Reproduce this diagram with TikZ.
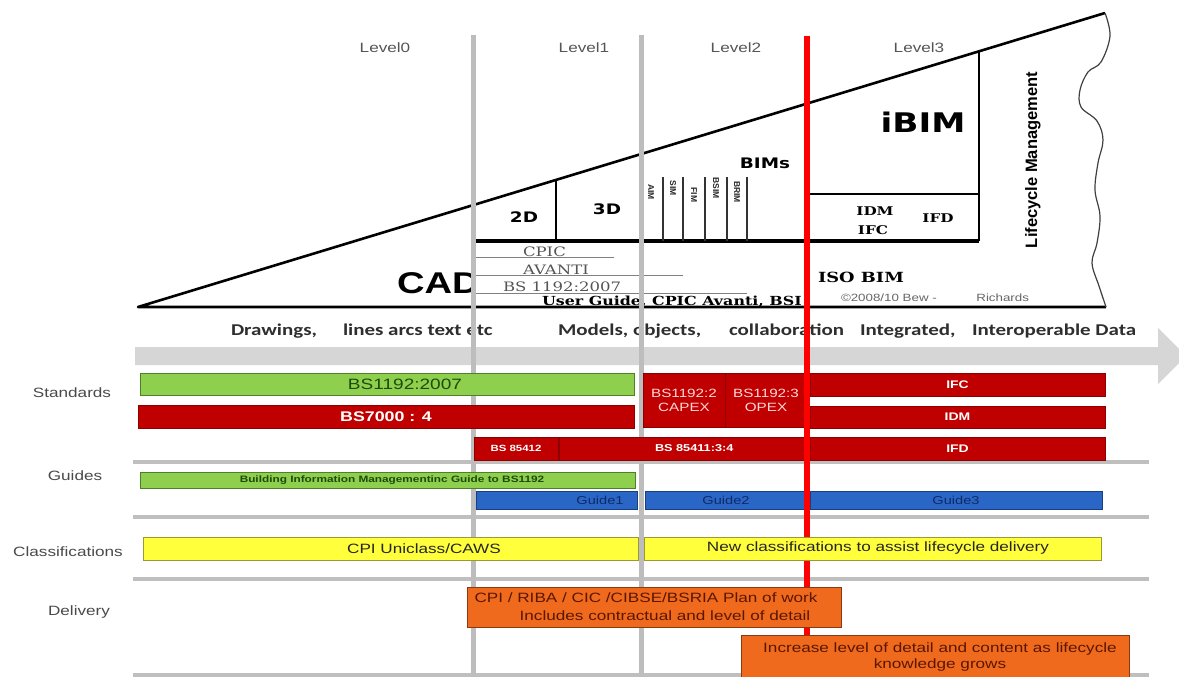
\documentclass[tikz,border=0pt]{standalone}
\usepackage{fontspec}
\setmainfont{Liberation Sans}[FakeStretch=1.27]
\newfontfamily\calfont{Carlito}[FakeStretch=1.27]
\newfontfamily\vsans{DejaVu Sans}[FakeStretch=1.27]
\newfontfamily\vserif{DejaVu Serif}[FakeStretch=1.27]
\newfontfamily\upsans{Liberation Sans}
\newcommand\setfs[1]{\fontsize{#1}{#1}\selectfont}

\definecolor{lvlgray}{HTML}{555555}
\definecolor{lblgray}{HTML}{4A4A4A}
\definecolor{vgray}{HTML}{BDBDBD}
\definecolor{sepgray}{HTML}{BFBFBF}
\definecolor{arrowgray}{HTML}{D6D6D6}
\definecolor{arrtext}{HTML}{2E2E2E}
\definecolor{serifgray}{HTML}{555555}
\definecolor{stdred}{HTML}{C00000}
\definecolor{stdredline}{HTML}{8C0000}
\definecolor{gdblue}{HTML}{2A66C6}
\definecolor{gdblueline}{HTML}{1A3F80}
\definecolor{bargreen}{HTML}{8ED04E}
\definecolor{bargreenline}{HTML}{4F7F2A}
\definecolor{baryellow}{HTML}{FFFF3C}
\definecolor{baryellowline}{HTML}{9A9A30}
\definecolor{barorange}{HTML}{F06A1E}
\definecolor{barorangeline}{HTML}{8A3A12}
\definecolor{navytext}{HTML}{0E2A66}
\definecolor{browntext}{HTML}{5A1600}
\definecolor{greentext}{HTML}{1E4A0C}
\definecolor{capexpink}{HTML}{FFD8D8}

\tikzset{
  txt/.style={inner sep=0pt, outer sep=0pt},
  lvl/.style={txt, anchor=base, text=lvlgray, font=\setfs{13.5}},
  rowlab/.style={txt, anchor=base, text=lblgray, font=\setfs{13.5}},
  wedgelab/.style={txt, anchor=base, font=\vsans\bfseries\setfs{14.5}},
  seriflab/.style={txt, anchor=base west, text=serifgray, font=\vserif\setfs{13}},
  serifbold/.style={txt, anchor=base, font=\vserif\bfseries\setfs{12}},
  bimcol/.style={txt, rotate=-90, font=\upsans\bfseries\setfs{8.5}, text=black!85},
  arrtxt/.style={txt, anchor=base west, text=arrtext, font=\calfont\bfseries\setfs{16.5}},
  bar/.style={anchor=north west, inner sep=0pt, outer sep=0pt, line width=1pt},
  redbar/.style={bar, fill=stdred, draw=stdredline},
  greenbar/.style={bar, fill=bargreen, draw=bargreenline},
  bluebar/.style={bar, fill=gdblue, draw=gdblueline},
  yellowbar/.style={bar, fill=baryellow, draw=baryellowline},
  orangebar/.style={bar, fill=barorange, draw=barorangeline},
  bartext/.style={txt, anchor=center},
  levelline/.style={vgray, line width=5pt},
  sepline/.style={sepgray, line width=4pt},
}

\begin{document}
\begin{tikzpicture}[x=1pt, y=-1pt]
\path[use as bounding box] (0,0) rectangle (1179,677);
\clip (0,0) rectangle (1179,677);
\fill[white] (0,0) rectangle (1179,677);

% ---------- maturity wedge ----------
\coordinate (w0) at (138,307);
\coordinate (w1) at (1105,13);
\coordinate (wb) at (1106,307);
\draw[line width=2.6pt, line join=round] (w1) -- (w0) -- (wb);
\draw[line width=1.2pt, black!75] plot[smooth, tension=0.6] coordinates
  {(1105,13) (1110,36) (1101,62) (1088,72) (1080,90) (1081,107) (1097,121)
   (1103,140) (1098,163) (1095,190) (1100,216) (1097,243) (1092,263) (1099,286) (1106,307)};

\coordinate (h0) at (475,241);
\coordinate (h1) at (979,241);
\draw[line width=3.5pt] (h0) -- (h1);
\coordinate (ib0) at (979,51.3);
\draw[line width=2.4pt] (ib0) -- (h1);
\coordinate (ih0) at (807,194);
\coordinate (ih1) at (979,194);
\draw[line width=2.4pt] (ih0) -- (ih1);
\coordinate (d0) at (556,179.9);
\coordinate (d1) at (556,241);
\draw[line width=2.4pt] (d0) -- (d1);
\foreach \x in {663,683,705,727,747}
  \draw[line width=1.3pt, black!80] (\x,177) -- (\x,241);

% underlines of the level-1 references
\draw[gray, line width=1pt] (475,257) -- (614,257);
\draw[gray, line width=1pt] (475,275) -- (683,275);
\draw[gray, line width=1pt] (475,293) -- (747,293);

\node[wedgelab] (t2d) at (524,222) {2D};
\node[wedgelab] (t3d) at (607,214) {3D};
\node[wedgelab] (bims) at (765,168) {BIMs};
\node[wedgelab, font=\vsans\bfseries\setfs{27}] (ibim) at (923,132) {iBIM};
\node[bimcol] (aim) at (651,192) {AIM};
\node[bimcol] (sim) at (673,188) {SIM};
\node[bimcol] (fim) at (694,195) {FIM};
\node[bimcol] (bsim) at (716,188) {BSIM};
\node[bimcol] (brim) at (737,192) {BRIM};
\node[serifbold] (idm) at (875,215) {IDM};
\node[serifbold] (ifc) at (873,234) {IFC};
\node[serifbold] (ifd) at (938,222) {IFD};
\node[serifbold, font=\vserif\bfseries\setfs{14}] (isobim) at (861,282) {ISO BIM};
\node[txt, anchor=base west, text=black!60, font=\setfs{10.5}] (copy) at (841,301) {\textcopyright2008/10 Bew -};
\node[txt, anchor=base east, text=black!60, font=\setfs{10.5}] (rich) at (1029,301) {Richards};
\node[txt, rotate=90, font=\upsans\bfseries\setfs{16.5}] (lcm) at (1033,160) {Lifecycle Management};

\node[seriflab] (cpic) at (523,256) {CPIC};
\node[seriflab] (avanti) at (523,274) {AVANTI};
\node[seriflab] (bs1192) at (503,291) {BS 1192:2007};
\node[txt, anchor=base west, font=\vserif\bfseries\setfs{12.5}] (uguide) at (542,305) {User Guide, CPIC Avanti, BSI};

\begin{scope}
  \clip (300,240) rectangle (471,300);
  \node[txt, anchor=base west, font=\bfseries\setfs{30}] (cad) at (397,293) {CAD};
\end{scope}

% ---------- progress arrow ----------
\fill[arrowgray] (135,347) -- (1158,347) -- (1158,328) -- (1186,356)
  -- (1158,384) -- (1158,365) -- (135,365) -- cycle;
\node[arrtxt] (drw) at (231,335) {Drawings,};
\node[arrtxt] (lines) at (343,335) {lines arcs text etc};
\node[arrtxt] (models) at (558,335) {Models, objects,};
\node[arrtxt] (collab) at (729,335) {collaboration};
\node[arrtxt] (integ) at (860,335) {Integrated,};
\node[arrtxt] (interop) at (972,335) {Interoperable Data};

% ---------- row labels ----------
\node[rowlab] (lstd) at (72,397) {Standards};
\node[rowlab] (lgd) at (75,480) {Guides};
\node[rowlab] (lcls) at (68,556) {Classifications};
\node[rowlab] (ldel) at (79,615) {Delivery};

% ---------- level headings ----------
\node[lvl] (lv0) at (385,53) {Level0};
\node[lvl] (lv1) at (584,53) {Level1};
\node[lvl] (lv2) at (736,53) {Level2};
\node[lvl] (lv3) at (919,53) {Level3};

% ---------- row separators ----------
\foreach \y in {462,517,579,675}
  \draw[sepline] (133,\y) -- (1149,\y);

% ---------- level boundaries ----------
\draw[levelline] (473,35) -- (473,677);
\draw[levelline] (641,35) -- (641,677);

% ---------- red and blue bars ----------
\node[redbar, minimum width=496, minimum height=23] (bs7000) at (138,405) {};
\node[bartext, text=white, font=\bfseries\setfs{14}] at (bs7000.center) {BS7000 : 4};
\node[redbar, minimum width=84, minimum height=23] (bs85412) at (474,437) {};
\node[bartext, text=white, font=\bfseries\setfs{9}] at (bs85412.center) {BS 85412};
\node[redbar, minimum width=249, minimum height=23] (bs85411) at (559,437) {};
\node[txt, anchor=west, text=white, font=\bfseries\setfs{10}] at (655,448.5) {BS 85411:3:4};
\node[redbar, minimum width=82, minimum height=54] (capex) at (643,373) {};
\node[bartext, text=capexpink, font=\setfs{12}, align=center] at (capex.center) {BS1192:2\\[2pt]CAPEX};
\node[redbar, minimum width=82, minimum height=54] (opex) at (725,373) {};
\node[bartext, text=capexpink, font=\setfs{12}, align=center] at (opex.center) {BS1192:3\\[2pt]OPEX};
\node[redbar, minimum width=295, minimum height=23] (ifcbar) at (810,373) {};
\node[bartext, text=white, font=\bfseries\setfs{11}] at (ifcbar.center) {IFC};
\node[redbar, minimum width=295, minimum height=22] (idmbar) at (810,406) {};
\node[bartext, text=white, font=\bfseries\setfs{11}] at (idmbar.center) {IDM};
\node[redbar, minimum width=295, minimum height=23] (ifdbar) at (810,437) {};
\node[bartext, text=white, font=\bfseries\setfs{11}] at (ifdbar.center) {IFD};

\node[bluebar, minimum width=161, minimum height=18] (g1) at (476,491) {};
\node[bartext, text=navytext, font=\setfs{11.5}] at (600,500) {Guide1};
\node[bluebar, minimum width=162, minimum height=18] (g2) at (645,491) {};
\node[bartext, text=navytext, font=\setfs{11.5}] at (g2.center) {Guide2};
\node[bluebar, minimum width=292, minimum height=18] (g3) at (810,491) {};
\node[bartext, text=navytext, font=\setfs{11.5}] at (g3.center) {Guide3};

% ---------- current maturity marker ----------
\draw[red, line width=5.5pt] (807,36) -- (807,677);

% ---------- green, yellow and orange bars ----------
\node[greenbar, minimum width=494, minimum height=22] (bsgreen) at (140,373) {};
\node[bartext, text=greentext, font=\setfs{15}] at (405,384) {BS1192:2007};
\node[greenbar, minimum width=495, minimum height=16] (gdgreen) at (140,472) {};
\node[bartext, text=greentext, font=\bfseries\setfs{9.3}] at (392,480) {Building Information Managementinc Guide to BS1192};

\node[yellowbar, minimum width=495, minimum height=23] (cls1) at (143,537) {};
\node[bartext, text=black!85, font=\setfs{13.5}] at (424,548.5) {CPI Uniclass/CAWS};
\node[yellowbar, minimum width=457, minimum height=23] (cls2) at (644,537) {};
\node[bartext, text=black!85, font=\setfs{13.5}] at (878,548.5) {New classifications to assist lifecycle delivery};

\node[orangebar, minimum width=374, minimum height=40] (del1) at (467,587) {};
\node[txt, anchor=base, text=browntext, font=\setfs{13.5}] at (646,602) {CPI / RIBA / CIC /CIBSE/BSRIA Plan of work};
\node[txt, anchor=base, text=browntext, font=\setfs{13.5}] at (665,620) {Includes contractual and level of detail};
\node[orangebar, minimum width=388, minimum height=50] (del2) at (741,635) {};
\node[txt, anchor=base, text=browntext, font=\setfs{13.5}] at (940,652) {Increase level of detail and content as lifecycle};
\node[txt, anchor=base, text=browntext, font=\setfs{13.5}] at (940,668) {knowledge grows};
\end{tikzpicture}
\end{document}
